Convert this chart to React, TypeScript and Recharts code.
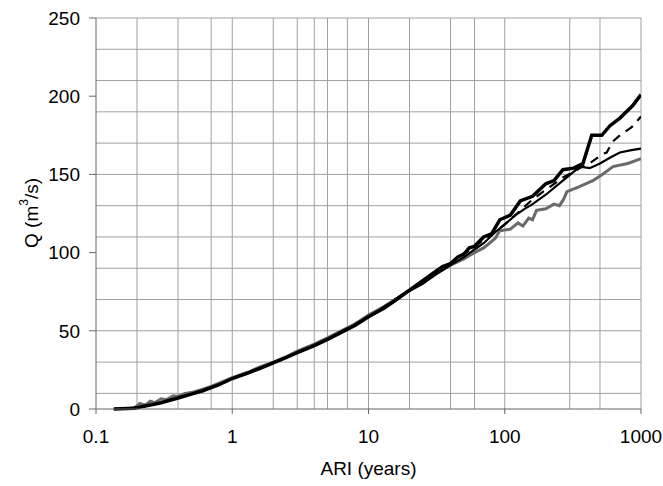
import { LineChart, Line, XAxis, YAxis, CartesianGrid, Label } from "recharts";

// gray series
const grayX = [0.19, 0.21, 0.23, 0.25, 0.27, 0.3, 0.33, 0.37, 0.4, 0.45, 0.5, 0.6, 0.7, 0.8, 1, 1.3, 1.6, 2, 2.5, 3, 4, 5, 6, 8, 10, 13, 16, 20, 25, 30, 35, 40, 45, 50, 60, 70, 85, 92, 110, 125, 136, 150, 160, 171, 200, 230, 252, 270, 286, 350, 443, 520, 623, 800, 1000];
const grayQ = [0.5, 3.5, 2.5, 5, 4, 6.5, 6, 8.5, 8, 10, 10.5, 12.5, 14.5, 16.5, 20, 23.5, 27, 30, 33.5, 37, 41.5, 45.5, 49, 54.5, 60, 65.5, 70.5, 76, 81.5, 86, 89, 92, 94, 96, 100, 103, 109, 114, 115, 119, 117, 122, 121, 127, 128, 131, 130, 134, 139, 142, 146, 150, 155, 157, 160];

// thick black series
const thickX = [0.135, 0.19, 0.25, 0.3, 0.4, 0.5, 0.6, 0.8, 1, 1.3, 1.6, 2, 2.5, 3, 4, 5, 6, 8, 10, 13, 16, 20, 25, 30, 35, 40, 45, 50, 55, 60, 70, 80, 92, 110, 130, 160, 200, 230, 267, 320, 375, 435, 515, 590, 700, 870, 1000];
const thickQ = [0, 0.5, 2.5, 4, 7, 9.5, 11.5, 15.5, 19.5, 23, 26, 29.5, 33, 36, 40.5, 44.5, 48, 53.5, 59, 64.5, 70, 76, 82, 87, 91, 93, 97, 99, 103, 104, 110, 112, 121, 124, 133, 136, 144, 146, 153, 154, 157, 175, 175, 181, 186, 194, 201];

// thin black series
const thinX = [0.135, 0.19, 0.25, 0.3, 0.4, 0.5, 0.6, 0.8, 1, 1.3, 1.6, 2, 2.5, 3, 4, 5, 6, 8, 10, 13, 16, 20, 25, 30, 40, 50, 60, 70, 85, 100, 120, 140, 160, 200, 267, 356, 420, 500, 600, 700, 850, 1000];
const thinQ = [0, 0.5, 2.5, 4, 7, 9.5, 11.5, 15.5, 19.5, 23, 26, 29.5, 33, 36, 40.5, 44.5, 48, 53.5, 59, 64, 69.5, 75.5, 80, 85, 92, 97, 102, 106, 113, 118, 124, 128, 131, 137, 146, 155, 154, 157, 161, 164, 165.5, 166.5];

// dashed black series
const dashX = [0.135, 0.2, 0.3, 0.5, 0.8, 1, 2, 3, 5, 10, 20, 30, 50, 70, 100, 160, 267, 374, 435, 520, 560, 620, 700, 850, 1000];
const dashQ = [0, 1, 4, 9.5, 15.5, 19.5, 29.5, 36, 44.5, 59, 76, 86, 99, 108, 118, 134, 148, 155, 158, 163, 164, 171, 175, 180, 187];

const xTicks = [0.1, 1, 10, 100, 1000];
const yTicks = [0, 50, 100, 150, 200, 250];
const xGrid = [0.2, 0.3, 0.4, 0.5, 0.6, 0.7, 0.8, 0.9, 1, 2, 3, 4, 5, 6, 7, 8, 9, 10, 20, 30, 40, 50, 60, 70, 80, 90, 100, 200, 300, 400, 500, 600, 700, 800, 900, 1000];
const yGrid = [10, 20, 30, 40, 50, 60, 70, 80, 90, 100, 110, 120, 130, 140, 150, 160, 170, 180, 190, 200, 210, 220, 230, 240, 250];

const zip = (xs: number[], qs: number[]) => xs.map((x, i) => ({ x, q: qs[i] }));

const font = "'Liberation Sans', Arial, sans-serif";
const tickStyle = { fontSize: 19, fill: "#000", fontFamily: font };

function YTitle() {
  return (
    <text
      x={31}
      y={213}
      transform="rotate(-90 31 213)"
      textAnchor="middle"
      dominantBaseline="central"
      fontSize={19}
      fontFamily={font}
      fill="#000"
    >
      Q (m<tspan fontSize={12} dy={-7}>3</tspan>
      <tspan dy={7}>/s)</tspan>
    </text>
  );
}

export default function App() {
  return (
    <div style={{ position: "absolute", left: 0, top: 0, background: "#fff" }}>
      <LineChart width={663} height={486} margin={{ top: 18, right: 22, left: 0, bottom: 0 }}>
        <CartesianGrid
          stroke="#a0a0a0"
          strokeWidth={1}
          verticalValues={xGrid}
          horizontalValues={yGrid}
        />
        <XAxis
          type="number"
          dataKey="x"
          scale="log"
          domain={[0.1, 1000]}
          ticks={xTicks}
          allowDataOverflow
          height={77}
          stroke="#666"
          tickSize={5}
          tickMargin={16}
          tick={tickStyle}
          tickFormatter={(v: number) => String(v)}
        >
          <Label
            value="ARI (years)"
            position="insideBottom"
            offset={11}
            style={{ fontSize: 19, fill: "#000", fontFamily: font }}
          />
        </XAxis>
        <YAxis
          type="number"
          dataKey="q"
          domain={[0, 250]}
          ticks={yTicks}
          width={96}
          stroke="#666"
          tickSize={7}
          tickMargin={9}
          tick={tickStyle}
          label={<YTitle />}
        />
        <Line data={zip(grayX, grayQ)} dataKey="q" stroke="#6a6a6a" strokeWidth={3} dot={false} isAnimationActive={false} />
        <Line data={zip(thinX, thinQ)} dataKey="q" stroke="#000" strokeWidth={2.2} dot={false} isAnimationActive={false} />
        <Line data={zip(dashX, dashQ)} dataKey="q" stroke="#000" strokeWidth={2.2} strokeDasharray="9 7" dot={false} isAnimationActive={false} />
        <Line data={zip(thickX, thickQ)} dataKey="q" stroke="#000" strokeWidth={3.5} dot={false} isAnimationActive={false} />
      </LineChart>
    </div>
  );
}
